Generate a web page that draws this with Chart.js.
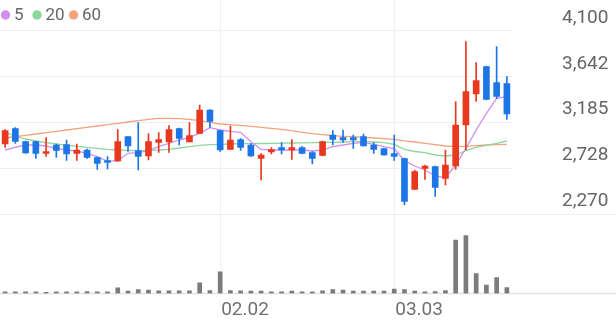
<!DOCTYPE html>
<html>
<head>
<meta charset="utf-8">
<script src="https://cdn.jsdelivr.net/npm/chart.js"></script>
<style>
  html, body { margin: 0; padding: 0; background: #fff; }
  .chartBox { width: 616px; height: 321px; }
</style>
</head>
<body>
<div class="chartBox">
  <canvas id="stockChart" width="616" height="321"></canvas>
</div>

<script>
// daily candles, 01.02 .. 03.18
const dates = ['01.02','01.05','01.06','01.07','01.08','01.09','01.12','01.13','01.14','01.15',
  '01.16','01.19','01.20','01.21','01.22','01.23','01.26','01.27','01.28','01.29',
  '01.30','02.02','02.03','02.04','02.05','02.06','02.09','02.10','02.11','02.12',
  '02.13','02.19','02.20','02.23','02.24','02.25','02.26','02.27','03.03','03.04',
  '03.05','03.06','03.09','03.10','03.11','03.12','03.13','03.16','03.17','03.18'];
const shownDates = ['02.02', '03.03'];

const opens  = [2970,3125,2995,2995,2875,2960,2965,2875,2910,2835, 2805,2800,3045,2905,2850,2985,2990,3125,2990,3075,
                3310,3105,2915,3015,2960,2825,2890,2935,2910,2935, 2885,2855,3060,3035,3035,3045,2960,2925,2875,2825,
                2515,2725,2745,2625,2750,3160,3470,3745,3585,3575];
const highs  = [3115,3135,3000,3000,3035,2970,3010,2970,2920,2840, 2845,3115,3045,3185,3075,3085,3155,3130,3185,3360,
                3315,3110,3150,3025,2975,2875,2935,2985,3015,2945, 2895,3000,3105,3110,3060,3070,2985,2930,3060,2830,
                2710,2760,2750,2910,3395,3995,3785,3750,3945,3645];
const lows   = [2935,2975,2875,2825,2845,2835,2805,2805,2825,2715, 2720,2795,2895,2710,2810,2885,2885,2960,2990,3075,
                3135,2895,2915,2905,2845,2610,2870,2870,2815,2870, 2770,2850,2960,2985,2925,2950,2875,2855,2805,2360,
                2515,2615,2445,2560,2715,2910,3395,3410,3425,3215];
const closes = [3105,2995,2880,2875,2895,2905,2870,2910,2835,2775, 2785,2995,2950,2845,2995,3015,3115,3025,3055,3310,
                3195,2910,3010,2935,2850,2860,2915,2910,2935,2875, 2825,2995,3015,3010,3010,2950,2915,2860,2845,2395,
                2695,2750,2535,2760,3160,3495,3605,3415,3445,3270];
const volumes = [170,170,170,170,120,170,170,170,200,170, 170,570,230,400,330,270,270,270,270,1070,
                 300,2170,300,270,230,230,170,170,230,170, 170,270,400,330,230,230,230,230,430,400,
                 230,170,200,300,5330,5770,2000,830,1600,600];

// moving averages as drawn
const ma5  = [2910,2937,2960,2960,2950,2923,2910,2900,2877,2843, 2797,2803,2877,2883,2903,2943,2977,3010,3037,3077,
              3133,3110,3097,3087,2993,2917,2910,2910,2910,2910, 2900,2910,2943,2960,2977,2987,2967,2943,2925,2803,
              2750,2710,2650,2633,2760,2927,3110,3277,3427,3443];
const ma20 = [3083,3050,3020,3000,2983,2970,2957,2947,2937,2927, 2917,2910,2907,2903,2907,2910,2917,2930,2943,2957,
              2963,2967,2970,2973,2973,2975,2977,2978,2980,2982, 2983,2987,2987,2990,2993,2993,2990,2983,2967,2917,
              2895,2883,2860,2850,2860,2903,2937,2957,2977,3000];
const ma60 = [3030,3043,3057,3070,3083,3097,3110,3123,3137,3150, 3163,3177,3190,3203,3217,3227,3227,3223,3217,3203,
              3187,3170,3163,3157,3147,3137,3127,3117,3103,3087, 3073,3063,3053,3047,3043,3037,3030,3023,3017,3002,
              2990,2977,2963,2950,2943,2947,2953,2960,2963,2967];

const maNames  = ['5', '20', '60'];
const maColors = ['#d38ff0', '#8dd69c', '#f5a27e'];

const priceTicks = [4100, 3642.5, 3185, 2727.5, 2270];
const priceTickLabels = ['4,100', '3,642', '3,185', '2,728', '2,270'];

const upColor = '#e8381e';
const downColor = '#1d76e6';
const candleColors = closes.map((c, i) => c >= opens[i] ? upColor : downColor);
const bodies = opens.map((o, i) => [o, closes[i]]);
const wicks = lows.map((l, i) => [l, highs[i]]);

// full width separator lines (price bottom + volume baseline)
const sepLines = {
  id: 'sepLines',
  beforeDatasetsDraw(chart) {
    const {ctx, width, scales: {y, yv}} = chart;
    ctx.save();
    ctx.strokeStyle = '#eeeeee';
    ctx.lineWidth = 1;
    let py = Math.round(y.getPixelForValue(2270)) + 0.5;
    ctx.beginPath(); ctx.moveTo(0, py); ctx.lineTo(width, py); ctx.stroke();
    ctx.strokeStyle = '#e3e3e3';
    ctx.lineWidth = 1.5;
    py = yv.getPixelForValue(0);
    ctx.beginPath(); ctx.moveTo(0, py); ctx.lineTo(width, py); ctx.stroke();
    ctx.restore();
  }
};

const maLegend = {
  id: 'maLegend',
  afterDraw(chart) {
    const ctx = chart.ctx;
    const dotX = [5.5, 37, 73.5];
    ctx.save();
    ctx.font = '17px Roboto';
    ctx.textBaseline = 'middle';
    maNames.forEach((name, i) => {
      ctx.fillStyle = maColors[i];
      ctx.beginPath();
      ctx.arc(dotX[i], 15, 4.7, 0, Math.PI * 2);
      ctx.fill();
      ctx.fillStyle = '#666';
      ctx.fillText(name, dotX[i] + 8.5, 15.5);
    });
    ctx.restore();
  }
};

Chart.defaults.font.family = 'Roboto';

new Chart(document.getElementById('stockChart'), {
  type: 'bar',
  data: {
    labels: dates,
    datasets: [
      { label: 'body', data: bodies, backgroundColor: candleColors, barThickness: 6,
        grouped: false, minBarLength: 1, order: 0, yAxisID: 'y' },
      { label: 'wick', data: wicks, backgroundColor: candleColors, barThickness: 1,
        grouped: false, order: 1, yAxisID: 'y' },
      { type: 'line', label: maNames[0], data: ma5, borderColor: maColors[0], borderWidth: 1.3,
        pointRadius: 0, order: 2, yAxisID: 'y' },
      { type: 'line', label: maNames[1], data: ma20, borderColor: maColors[1], borderWidth: 1.3,
        pointRadius: 0, order: 3, yAxisID: 'y' },
      { type: 'line', label: maNames[2], data: ma60, borderColor: maColors[2], borderWidth: 1.3,
        pointRadius: 0, order: 4, yAxisID: 'y' },
      { label: 'volume', data: volumes, backgroundColor: '#7b7b7b', barThickness: 4,
        grouped: false, order: 5, yAxisID: 'yv' }
    ]
  },
  options: {
    responsive: false,
    animation: false,
    layout: { padding: 0 },
    plugins: {
      legend: { display: false },
      tooltip: { enabled: false }
    },
    scales: {
      x: {
        offset: true,
        grid: {
          offset: false,
          drawTicks: false,
          color: (c) => shownDates.includes(dates[c.index]) ? '#f0f0f0' : 'rgba(0,0,0,0)'
        },
        border: { display: false },
        afterFit: (s) => { s.height = 27.5; s.paddingLeft = 0; s.paddingRight = 0; },
        ticks: {
          autoSkip: false,
          maxRotation: 0,
          minRotation: 0,
          align: 'start',
          padding: 5.5,
          labelOffset: 1,
          color: '#707070',
          font: { size: 19 },
          callback: (v, i) => shownDates.includes(dates[i]) ? dates[i] : ''
        }
      },
      y: {
        position: 'right',
        min: 1475,
        max: 4410,
        afterBuildTicks: (s) => { s.ticks = priceTicks.map(v => ({ value: v })); },
        afterFit: (s) => { s.width = 104; s.paddingTop = 0; s.paddingBottom = 0; },
        grid: { color: '#f0f0f0', drawTicks: false },
        border: { display: false },
        ticks: {
          padding: 50,
          labelOffset: -13,
          color: '#666',
          font: { size: 19 },
          callback: (v, i) => priceTickLabels[i]
        }
      },
      yv: {
        position: 'left',
        display: false,
        min: 0,
        max: 29300
      }
    }
  },
  plugins: [sepLines, maLegend]
});
</script>
</body>
</html>
